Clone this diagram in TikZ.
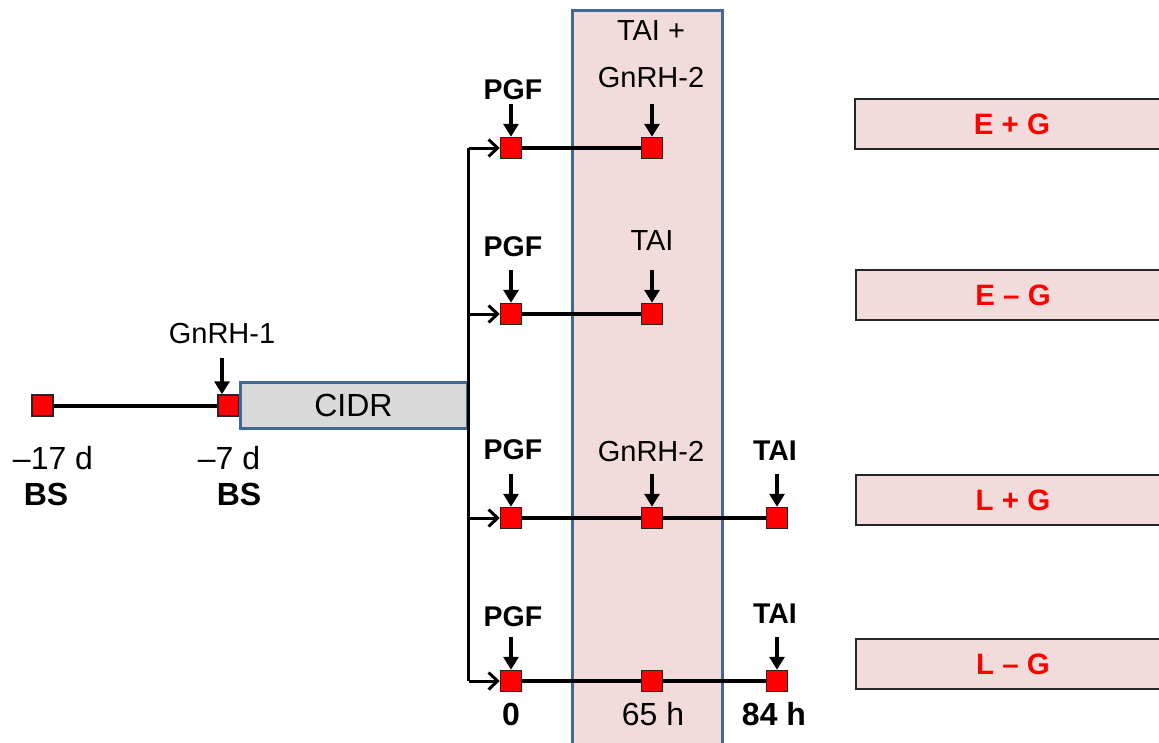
\documentclass[tikz,border=0pt]{standalone}
\usepackage{fontspec}
\setmainfont{Liberation Sans}
\usetikzlibrary{arrows.meta,calc,positioning}
\definecolor{rosebg}{RGB}{242,220,219}
\definecolor{frameblue}{RGB}{65,104,150}
\definecolor{cidrgray}{RGB}{217,217,217}
\tikzset{
  evt/.style={draw=black!85,fill=red,minimum size=21pt,inner sep=0pt,line width=1.5pt},
  txt/.style={inner sep=3pt,font=\fontsize{29}{33}\selectfont},
  btxt/.style={inner sep=3pt,font=\fontsize{28.5}{33}\selectfont\bfseries},
  big/.style={inner sep=3pt,font=\fontsize{32}{36}\selectfont},
  bbig/.style={inner sep=3pt,font=\fontsize{32}{36}\selectfont\bfseries},
  dose/.style={-{Triangle[length=13pt,width=15pt]},line width=3.5pt},
  branch/.style={-{Straight Barb[length=9pt,width=17pt]},line width=3pt},
  track/.style={line width=4pt},
  grp/.style={draw=black!85,line width=2pt,fill=rosebg,minimum width=314pt,minimum height=50pt,
    text=red,font=\fontsize{29.5}{33}\selectfont\bfseries}
}

\begin{document}
\begin{tikzpicture}[x=1pt,y=-1pt]
  \useasboundingbox (0,0) rectangle (1159,742);
  \clip (0,0) rectangle (1159,742);

  % 65 h window
  \draw[frameblue,line width=3pt,fill=rosebg] (572,10.5) rectangle (722,760);

  % synchronisation before PGF
  \node[evt] (bs1) at (42.5,405.5) {};
  \node[evt] (bs2) at (228.5,405.5) {};
  \draw[track] (bs1) -- (bs2);
  \node[big,draw=frameblue,line width=3pt,fill=cidrgray,minimum width=227pt,minimum height=46pt,inner sep=0pt] (cidr) at (353.5,405) {CIDR};

  \node[txt] (g1) at (222,333.5) {GnRH-1};
  \draw[dose] ($(bs2.north -| g1.south)+(0,-36)$) -- (bs2.north -| g1.south);
  \node[big] (d17) at (53,458) {\textendash17 d};
  \node[bbig] (bsl1) at (46,494) {BS};
  \node[big] (d7) at (229,458) {\textendash7 d};
  \node[bbig] (bsl2) at (239,494) {BS};

  % treatment rows
  \node[evt] (a1) at (511,148) {};
  \node[evt] (b1) at (652,148) {};
  \draw[track] (a1) -- (b1);

  \node[evt] (a2) at (511,314) {};
  \node[evt] (b2) at (652,314) {};
  \draw[track] (a2) -- (b2);

  \node[evt] (a3) at (511,518) {};
  \node[evt] (b3) at (652,518) {};
  \node[evt] (c3) at (777,518) {};
  \draw[track] (a3) -- (b3);
  \draw[track] (b3) -- (c3);

  \node[evt] (a4) at (511,681) {};
  \node[evt] (b4) at (652,681) {};
  \node[evt] (c4) at (777,681) {};
  \draw[track] (a4) -- (b4);
  \draw[track] (b4) -- (c4);

  % branching from CIDR
  \coordinate (br1) at (cidr.east |- a1);
  \coordinate (br2) at (cidr.east |- a2);
  \coordinate (br3) at (cidr.east |- a3);
  \coordinate (br4) at (cidr.east |- a4);
  \draw[line width=3pt] (br1) -- (br4);
  \draw[branch] (br1) -- (a1.west);
  \draw[branch] (br2) -- (a2.west);
  \draw[branch] (br3) -- (a3.west);
  \draw[branch] (br4) -- (a4.west);

  % injections
  \node[btxt] (pgf1) at (513,89.5) {PGF};
  \node[txt,align=center,font=\fontsize{29}{47}\selectfont] (ev1) at (651,54.5) {TAI +\\GnRH-2};
  \node[btxt] (pgf2) at (513,247) {PGF};
  \node[txt] (tai2) at (652,241) {TAI};
  \node[btxt] (pgf3) at (513,450) {PGF};
  \node[txt] (gn3) at (651,452) {GnRH-2};
  \node[btxt] (tai3) at (775,451) {TAI};
  \node[btxt] (pgf4) at (513,617) {PGF};
  \node[btxt] (tai4) at (775,614) {TAI};

  \draw[dose] ($(a1.north)+(0,-33)$) -- (a1.north);
  \draw[dose] ($(b1.north)+(0,-33)$) -- (b1.north);
  \draw[dose] ($(a2.north)+(0,-33)$) -- (a2.north);
  \draw[dose] ($(b2.north)+(0,-33)$) -- (b2.north);
  \draw[dose] ($(a3.north)+(0,-33)$) -- (a3.north);
  \draw[dose] ($(b3.north)+(0,-33)$) -- (b3.north);
  \draw[dose] ($(c3.north)+(0,-33)$) -- (c3.north);
  \draw[dose] ($(a4.north)+(0,-33)$) -- (a4.north);
  \draw[dose] ($(c4.north)+(0,-33)$) -- (c4.north);

  % time axis
  \node[bbig] (t0) at (511,714) {0};
  \node[big] (t65) at (653,714) {65 h};
  \node[bbig] (t84) at (774,714) {84 h};

  % groups
  \node[grp] (eg) at (1012,124) {E + G};
  \node[grp] (emg) at (1013,295) {E \textendash{} G};
  \node[grp] (lg) at (1013,500) {L + G};
  \node[grp] (lmg) at (1013,664) {L \textendash{} G};
\end{tikzpicture}
\end{document}
